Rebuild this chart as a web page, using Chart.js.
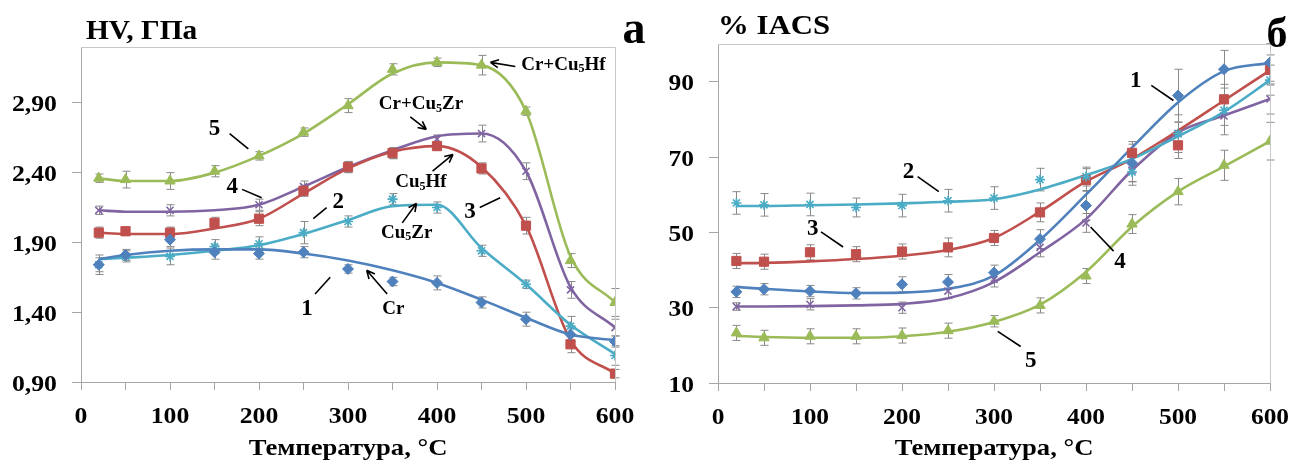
<!DOCTYPE html>
<html>
<head>
<meta charset="utf-8">
<script src="https://cdn.jsdelivr.net/npm/chart.js@4.4.1/dist/chart.umd.min.js"></script>
<style>
  body { margin: 0; background: #fff; width: 1293px; height: 463px; overflow: hidden; position: relative; }
  .box { position: absolute; top: 0; height: 463px; }
  #boxA { left: 0; width: 650px; }
  #boxB { left: 650px; width: 643px; }
</style>
</head>
<body>
<div class="box" id="boxA"><canvas id="chartA"></canvas></div>
<div class="box" id="boxB"><canvas id="chartB"></canvas></div>
<script>
// температуры отжига, °C
const temps = [20, 50, 100, 150, 200, 250, 300, 350, 400, 450, 500, 550, 600];
const xTickValues = [0, 50, 100, 150, 200, 250, 300, 350, 400, 450, 500, 550, 600];

// (а) твердость HV, ГПа - точки измерений
const hv1 = [1.74, 1.81, 1.92, 1.83, 1.82, 1.83, 1.71, 1.62, 1.61, 1.47, 1.35, 1.24, 1.19];
const hv2 = [1.74, 1.80, 1.80, 1.87, 1.89, 1.97, 2.05, 2.21, 2.15, 1.84, 1.60, 1.30, 1.09];
const hv3 = [1.97, 1.98, 1.97, 2.04, 2.07, 2.27, 2.44, 2.54, 2.59, 2.43, 2.02, 1.17, 0.96];
const hv4 = [2.13, null, 2.13, null, 2.17, 2.30, 2.44, 2.54, 2.64, 2.68, 2.41, 1.56, 1.29];
const hv5 = [2.36, 2.35, 2.34, 2.41, 2.52, 2.69, 2.88, 3.14, 3.19, 3.17, 2.84, 1.77, 1.47];
// погрешности
const hvErr1 = [0.05, 0.04, 0.05, 0.05, 0.04, 0.04, 0.03, 0.03, 0.05, 0.04, 0.05, 0.05, 0.04];
const hvErr2 = [0.07, 0.04, 0.06, 0.05, 0.05, 0.08, 0.04, 0.04, 0.04, 0.04, 0.03, 0.07, 0.07];
const hvErr3 = [0.04, 0.03, 0.04, 0.04, 0.05, 0.04, 0.04, 0.04, 0.03, 0.04, 0.06, 0.06, 0.03];
const hvErr4 = [0.03, 0.00, 0.04, 0.00, 0.04, 0.04, 0.04, 0.04, 0.03, 0.06, 0.06, 0.06, 0.06];
const hvErr5 = [0.03, 0.06, 0.06, 0.04, 0.03, 0.03, 0.05, 0.04, 0.03, 0.07, 0.03, 0.05, 0.10];
// сглаженные кривые
const hvFit1 = [1.78, 1.81, 1.84, 1.85, 1.85, 1.82, 1.77, 1.70, 1.61, 1.49, 1.36, 1.24, 1.20];
const hvFit2 = [1.78, 1.79, 1.81, 1.84, 1.88, 1.96, 2.06, 2.16, 2.17, 1.86, 1.60, 1.31, 1.10];
const hvFit3 = [1.97, 1.96, 1.96, 2.00, 2.07, 2.25, 2.43, 2.55, 2.59, 2.44, 2.02, 1.20, 0.96];
const hvFit4 = [2.13, 2.12, 2.12, 2.13, 2.17, 2.30, 2.44, 2.56, 2.66, 2.68, 2.41, 1.58, 1.29];
const hvFit5 = [2.36, 2.34, 2.34, 2.40, 2.52, 2.68, 2.89, 3.11, 3.19, 3.17, 2.84, 1.80, 1.47];
const hvTicks = [0.90, 1.40, 1.90, 2.40, 2.90];

// (б) электропроводность, % IACS
const ic1 = [34.2, 34.9, 34.4, 33.8, 36.2, 36.8, 39.3, 48.2, 57.1, 68.4, 86.3, 93.3, 95.1];
const ic2 = [57.8, 57.3, 57.4, 56.6, 57.1, 58.4, 59.1, 64.0, 64.8, 66.0, 76.2, 82.4, 90.4];
const ic3 = [42.4, 42.2, 44.7, 44.2, 44.9, 46.0, 48.5, 55.3, 63.9, 71.1, 73.1, 85.3, 93.1];
const ic4 = [30.3, null, 30.9, null, 30.0, 34.4, 37.5, 46.0, 52.5, 66.5, 76.2, 80.9, 85.4];
const ic5 = [23.3, 22.0, 22.4, 22.4, 22.6, 23.9, 26.4, 30.6, 38.4, 52.2, 60.8, 67.8, 74.2];
const icErr1 = [1.5, 1.5, 1.5, 1.5, 2, 2, 2, 2.5, 4, 5, 7, 5, 5];
const icErr2 = [3, 3, 3, 2.5, 3, 3, 3, 3, 2.5, 2.5, 3, 4, 4];
const icErr3 = [2, 2, 2, 2, 2, 2.5, 2, 2.5, 3, 3, 3.5, 4, 4];
const icErr4 = [1, 0, 1.5, 0, 1.5, 2, 2, 2.5, 2.5, 4, 5, 5, 4];
const icErr5 = [2, 2, 2, 2, 2, 2, 1.5, 2, 2, 2.5, 3.5, 4, 5];
const icFit1 = [35.5, 35.0, 34.3, 33.9, 34.0, 35.0, 38.5, 48.0, 60.0, 72.5, 84.5, 92.8, 95.0];
const icFit2 = [57.0, 57.0, 57.2, 57.4, 57.7, 58.1, 58.8, 61.4, 65.2, 69.5, 75.5, 82.0, 90.4];
const icFit3 = [41.8, 41.9, 42.3, 42.9, 43.8, 45.3, 48.5, 55.5, 63.5, 69.5, 77.0, 85.0, 93.0];
const icFit4 = [30.3, 30.3, 30.4, 30.6, 31.0, 32.5, 36.8, 44.7, 53.5, 66.5, 76.5, 81.0, 85.4];
const icFit5 = [22.5, 22.2, 22.0, 22.0, 22.4, 23.6, 26.2, 30.8, 39.5, 51.5, 60.8, 67.5, 74.2];
const icTicks = [10, 30, 50, 70, 90];

const colors = ["#4F81BD", "#4BACC6", "#C0504D", "#8064A2", "#9BBB59"];
const markers = ["rectRot", "star", "rect", "crossRot", "triangle"];
const markerSize = [5.5, 5, 6.5, 5, 6];
const family = "'Liberation Serif', 'Times New Roman', serif";

// подписи на графиках (положение в единицах осей)
const notesA = [
  { t: "5", x: 150, y: 2.71, ln: [167, 2.68, 188, 2.57] },
  { t: "4", x: 170, y: 2.30, ln: [181, 2.28, 203, 2.22] },
  { t: "2", x: 289, y: 2.19, ln: [261, 2.07, 276, 2.15] },
  { t: "3", x: 437, y: 2.12, ln: [448, 2.15, 471, 2.22] },
  { t: "1", x: 254, y: 1.42, ln: [263, 1.53, 280, 1.65] },
  { t: "Cr", x: 351, y: 1.42, ar: [344, 1.53, 321, 1.70], s: 19 },
  { t: "Cu_5Zr", x: 366, y: 1.97, ar: [361, 2.04, 377, 2.18], s: 19 },
  { t: "Cu_5Hf", x: 382, y: 2.33, ar: [395, 2.41, 418, 2.53], s: 19 },
  { t: "Cr+Cu_5Zr", x: 382, y: 2.89, ar: [370, 2.80, 388, 2.71], s: 19 },
  { t: "Cr+Cu_5Hf", x: 542, y: 3.17, ar: [488, 3.16, 460, 3.19], s: 19 }
];
const notesB = [
  { t: "1", x: 454, y: 90.1, ln: [471, 89.0, 495, 85.0] },
  { t: "2", x: 207, y: 66.1, ln: [217, 64.8, 240, 60.8] },
  { t: "3", x: 103, y: 50.9, ln: [112, 50.1, 136, 46.1] },
  { t: "4", x: 437, y: 42.1, ln: [405, 51.4, 430, 45.0] },
  { t: "5", x: 340, y: 15.7, ln: [304, 23.7, 329, 19.7] }
];

function buildDatasets(points, errs, fits) {
  let sets = [];
  for (let i = 0; i < 5; i++) {
    let pts = [];
    temps.forEach((t, j) => {
      if (points[i][j] !== null) pts.push({ x: t, y: points[i][j], e: errs[i][j] });
    });
    sets.push({
      data: pts,
      showLine: false,
      pointStyle: markers[i],
      pointRadius: markerSize[i],
      borderWidth: i === 1 || i === 3 ? 1.6 : 1,
      backgroundColor: colors[i],
      borderColor: colors[i],
      order: 1
    });
    sets.push({
      data: temps.map((t, j) => ({ x: t, y: fits[i][j] })),
      borderColor: colors[i],
      borderWidth: 2.6,
      pointRadius: 0,
      cubicInterpolationMode: "monotone",
      order: 2
    });
  }
  return sets;
}

// усы погрешностей
const errorBars = {
  id: "errorBars",
  beforeDatasetsDraw(chart) {
    const ctx = chart.ctx, xs = chart.scales.x, ys = chart.scales.y;
    ctx.save();
    ctx.strokeStyle = "#8a8a8a";
    ctx.lineWidth = 1;
    chart.data.datasets.forEach((ds) => {
      ds.data.forEach((p) => {
        if (!p.e) return;
        const px = Math.round(xs.getPixelForValue(p.x)) + 0.5;
        const y1 = ys.getPixelForValue(p.y - p.e);
        const y2 = ys.getPixelForValue(p.y + p.e);
        ctx.beginPath();
        ctx.moveTo(px, y1); ctx.lineTo(px, y2);
        ctx.moveTo(px - 4, y1); ctx.lineTo(px + 4, y1);
        ctx.moveTo(px - 4, y2); ctx.lineTo(px + 4, y2);
        ctx.stroke();
      });
    });
    ctx.restore();
  }
};

// текст с растяжкой по горизонтали (как в исходном рисунке)
function stretchText(ctx, text, x, y, size, align, sx) {
  ctx.save();
  ctx.font = "bold " + size + "px " + family;
  ctx.textAlign = align;
  ctx.translate(x, y);
  ctx.scale(sx, 1);
  ctx.fillText(text, 0, 0);
  ctx.restore();
}

function drawRich(ctx, text, x, y, size) {
  let parts = [];
  for (let i = 0; i < text.length; i++) {
    if (text[i] === "_") { parts.push({ t: text[i + 1], sub: true }); i++; }
    else if (parts.length && !parts[parts.length - 1].sub) parts[parts.length - 1].t += text[i];
    else parts.push({ t: text[i], sub: false });
  }
  let total = 0;
  parts.forEach((p) => {
    ctx.font = "bold " + (p.sub ? Math.round(size * 0.65) : size) + "px " + family;
    p.w = ctx.measureText(p.t).width;
    total += p.w;
  });
  let cx = x - total / 2;
  ctx.textAlign = "left";
  parts.forEach((p) => {
    ctx.font = "bold " + (p.sub ? Math.round(size * 0.65) : size) + "px " + family;
    ctx.fillText(p.t, cx, p.sub ? y + size * 0.22 : y);
    cx += p.w;
  });
}

// подписи осей, стрелки, заголовки, рамка
const notes = {
  id: "notes",
  afterDraw(chart, args, opts) {
    const ctx = chart.ctx, xs = chart.scales.x, ys = chart.scales.y, a = chart.chartArea;
    ctx.save();
    ctx.strokeStyle = "#c8c8c8";
    ctx.lineWidth = 1;
    ctx.beginPath();
    ctx.moveTo(a.left, a.top + 0.5); ctx.lineTo(a.right + 0.5, a.top + 0.5); ctx.lineTo(a.right + 0.5, a.bottom);
    ctx.stroke();

    ctx.fillStyle = "#000";
    ctx.textBaseline = "alphabetic";
    // подписи делений
    xTickValues.forEach((v) => {
      if (v % 100 !== 0) return;
      stretchText(ctx, String(v), xs.getPixelForValue(v), a.bottom + 41, opts.tickSize, "center", opts.sx);
    });
    opts.yTicks.forEach((v) => {
      stretchText(ctx, opts.yFormat(v), a.left - 24, ys.getPixelForValue(v) + 8.5, opts.tickSize, "right", opts.sx);
    });
    stretchText(ctx, "Температура, °C", (a.left + a.right) / 2, 455, 24, "center", 1.11);

    opts.titles.forEach((t) => {
      stretchText(ctx, t.text, t.x, t.y, t.size, t.align || "left", t.sx || 1);
    });

    ctx.strokeStyle = "#000";
    ctx.lineWidth = 1.6;
    ctx.textBaseline = "middle";
    opts.items.forEach((n) => {
      drawRich(ctx, n.t, xs.getPixelForValue(n.x), ys.getPixelForValue(n.y), n.s || 23);
      const seg = n.ln || n.ar;
      const x1 = xs.getPixelForValue(seg[0]), y1 = ys.getPixelForValue(seg[1]);
      const x2 = xs.getPixelForValue(seg[2]), y2 = ys.getPixelForValue(seg[3]);
      ctx.beginPath();
      ctx.moveTo(x1, y1); ctx.lineTo(x2, y2);
      if (n.ar) {
        const ang = Math.atan2(y2 - y1, x2 - x1);
        ctx.moveTo(x2, y2);
        ctx.lineTo(x2 - 9 * Math.cos(ang - 0.45), y2 - 9 * Math.sin(ang - 0.45));
        ctx.moveTo(x2, y2);
        ctx.lineTo(x2 - 9 * Math.cos(ang + 0.45), y2 - 9 * Math.sin(ang + 0.45));
      }
      ctx.stroke();
    });
    ctx.restore();
  }
};

function makeChart(canvas, cfg) {
  return new Chart(canvas, {
    type: "line",
    data: { datasets: buildDatasets(cfg.points, cfg.errs, cfg.fits) },
    plugins: [errorBars, notes],
    options: {
      responsive: true,
      maintainAspectRatio: false,
      animation: false,
      layout: { padding: { left: 0, right: cfg.padRight, top: cfg.padTop, bottom: 0 } },
      plugins: {
        legend: { display: false },
        tooltip: { enabled: false },
        notes: {
          items: cfg.notes, titles: cfg.titles, yTicks: cfg.yTicks, yFormat: cfg.yFormat,
          tickSize: cfg.tickSize, sx: cfg.sx
        }
      },
      scales: {
        x: {
          type: "linear",
          min: 0,
          max: 600,
          afterBuildTicks: (s) => { s.ticks = xTickValues.map((v) => ({ value: v })); },
          afterFit: (s) => { s.height = cfg.xHeight; },
          ticks: { display: false },
          grid: { drawOnChartArea: false, tickLength: 8, color: "#a6a6a6" },
          border: { color: "#a6a6a6" }
        },
        y: {
          min: cfg.yMin,
          max: cfg.yMax,
          afterBuildTicks: (s) => { s.ticks = cfg.yTicks.map((v) => ({ value: v })); },
          afterFit: (s) => { s.width = cfg.yWidth; },
          ticks: { display: false },
          grid: { drawOnChartArea: false, tickLength: 9, color: "#a6a6a6" },
          border: { color: "#a6a6a6" }
        }
      }
    }
  });
}

makeChart(document.getElementById("chartA"), {
  points: [hv1, hv2, hv3, hv4, hv5],
  errs: [hvErr1, hvErr2, hvErr3, hvErr4, hvErr5],
  fits: [hvFit1, hvFit2, hvFit3, hvFit4, hvFit5],
  yMin: 0.9, yMax: 3.3, yTicks: hvTicks,
  yFormat: (v) => v.toFixed(2).replace(".", ","),
  tickSize: 23, sx: 1.12,
  yWidth: 81, xHeight: 81, padRight: 35, padTop: 47,
  notes: notesA,
  titles: [
    { text: "HV, ГПа", x: 86, y: 39, size: 28, sx: 1.05 },
    { text: "а", x: 634, y: 43, size: 46, align: "center" }
  ]
});

makeChart(document.getElementById("chartB"), {
  points: [ic1, ic2, ic3, ic4, ic5],
  errs: [icErr1, icErr2, icErr3, icErr4, icErr5],
  fits: [icFit1, icFit2, icFit3, icFit4, icFit5],
  yMin: 10, yMax: 100, yTicks: icTicks,
  yFormat: (v) => String(v),
  tickSize: 24, sx: 1.06,
  yWidth: 68, xHeight: 80, padRight: 23, padTop: 44,
  notes: notesB,
  titles: [
    { text: "% IACS", x: 68, y: 34, size: 28, sx: 1.1 },
    { text: "б", x: 627, y: 47, size: 42, align: "center" }
  ]
});
</script>
</body>
</html>
